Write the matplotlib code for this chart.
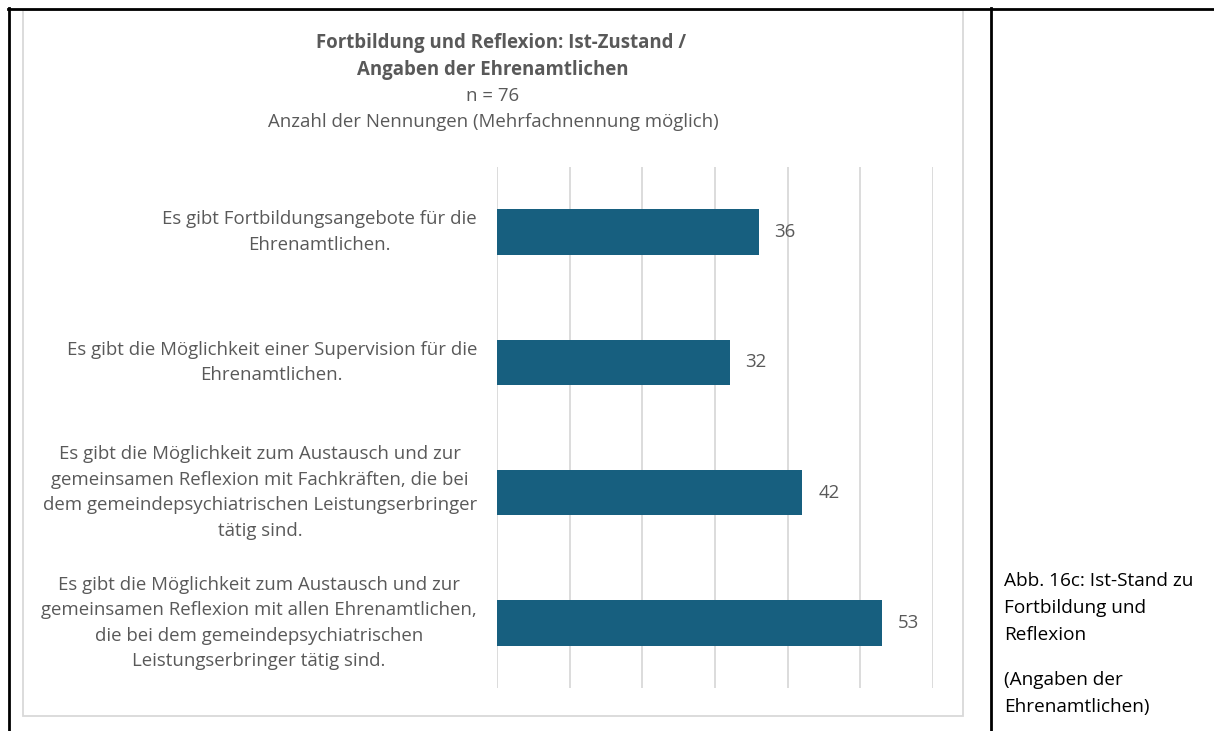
import matplotlib
matplotlib.use("Agg")
import matplotlib.pyplot as plt
from matplotlib.lines import Line2D
from matplotlib.patches import Rectangle
import matplotlib.transforms as mtransforms

plt.rcParams['font.family'] = ['Open Sans', 'DejaVu Sans']

categories = [
    "Es gibt Fortbildungsangebote für die\nEhrenamtlichen.",
    "Es gibt die Möglichkeit einer Supervision für die\nEhrenamtlichen.",
    "Es gibt die Möglichkeit zum Austausch und zur\ngemeinsamen Reflexion mit Fachkräften, die bei\ndem gemeindepsychiatrischen Leistungserbringer\ntätig sind.",
    "Es gibt die Möglichkeit zum Austausch und zur\ngemeinsamen Reflexion mit allen Ehrenamtlichen,\ndie bei dem gemeindepsychiatrischen\nLeistungserbringer tätig sind.",
]
values = [36, 32, 42, 53]
xticks = [0, 10, 20, 30, 40, 50, 60]

title_lines = ["Fortbildung und Reflexion: Ist-Zustand /", "Angaben der Ehrenamtlichen"]
subtitle_lines = ["n = 76", "Anzahl der Nennungen (Mehrfachnennung möglich)"]
caption_lines = ["Abb. 16c: Ist-Stand zu", "Fortbildung und", "Reflexion"]
caption2_lines = ["(Angaben der", "Ehrenamtlichen)"]

W, H = 1214, 731
fig = plt.figure(figsize=(W / 100, H / 100), dpi=100)
fig.patch.set_facecolor("white")

def fx(px):
    return px / W

def fy(py):
    return 1 - py / H

TXT = "#595959"
BAR = "#175F7F"
GRID = "#D9D9D9"
FS = 13.4

# frame lines (table borders)
fig.add_artist(Line2D([fx(8), fx(W)], [fy(9), fy(9)], color="black", lw=2))
fig.add_artist(Line2D([fx(9), fx(9)], [fy(8), fy(H + 2)], color="black", lw=2))
fig.add_artist(Line2D([fx(991), fx(991)], [fy(8), fy(H + 2)], color="black", lw=2))
# chart area border
fig.add_artist(Rectangle((fx(23), fy(716)), fx(963) - fx(23), fy(10) - fy(716),
                         fill=False, edgecolor=GRID, lw=1.3))

# axes
ax = fig.add_axes([fx(497), fy(688), fx(933) - fx(497), fy(167) - fy(688)])
ypos = list(range(len(categories)))
ax.barh(ypos, values, height=0.35, color=BAR, zorder=3)
ax.set_xlim(xticks[0], xticks[-1])
ax.set_ylim(len(categories) - 0.5, -0.5)
ax.set_xticks(xticks)
ax.xaxis.grid(True, color=GRID, lw=1.3, zorder=0)
ax.tick_params(left=False, bottom=False, labelbottom=False, labelleft=False)
for s in ax.spines.values():
    s.set_visible(False)

for y, v in zip(ypos, values):
    ax.annotate(str(v), (v, y), xytext=(11.5, 0), textcoords="offset points",
                va="center", ha="left", fontsize=FS, color=TXT)

trans = mtransforms.blended_transform_factory(fig.transFigure, ax.transData)
for y, c in zip(ypos, categories):
    ax.text(fx(477), y, c, transform=trans, ha="right", va="center",
            multialignment="center", fontsize=FS, color=TXT, linespacing=1.54)

# titles
fig.text(fx(501), fy(43), title_lines[0], ha="center", va="center",
         fontsize=FS, fontweight="bold", color=TXT)
fig.text(fx(493), fy(70), title_lines[1], ha="center", va="center",
         fontsize=FS, fontweight="bold", color=TXT)
fig.text(fx(493), fy(96), subtitle_lines[0], ha="center", va="center",
         fontsize=FS, color=TXT)
fig.text(fx(493), fy(122), subtitle_lines[1], ha="center", va="center",
         fontsize=FS, color=TXT)

# caption
for i, t in enumerate(caption_lines):
    fig.text(fx(1004), fy(581 + 27 * i), t, ha="left", va="center",
             fontsize=13.7, color="black")
for i, t in enumerate(caption2_lines):
    fig.text(fx(1004), fy(680 + 27 * i), t, ha="left", va="center",
             fontsize=13.7, color="black")

fig.savefig("out.png", dpi=100, facecolor="white")
